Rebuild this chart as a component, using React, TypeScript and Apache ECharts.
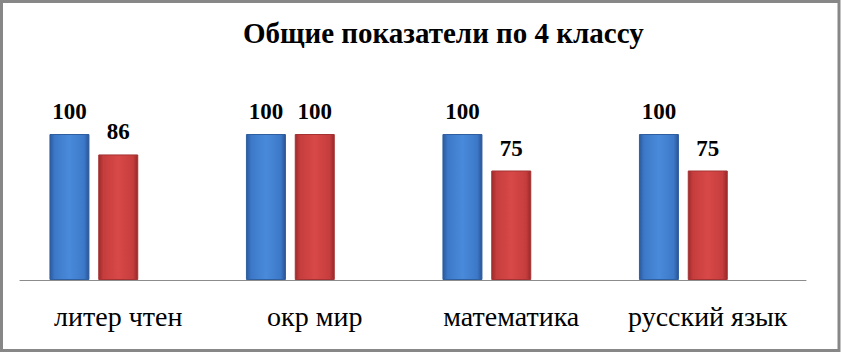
import React, { useEffect, useRef } from "react";
import * as echarts from "echarts";

const categories = ["литер чтен", "окр мир", "математика", "русский язык"];
const seriesA = [100, 100, 100, 100];
const seriesB = [86, 100, 75, 75];
const placeholder = [null, null, null, null];
const titleText = "Общие показатели по 4 классу";

const FONT = "Liberation Serif";

function hGrad(edge: string, mid: string, center: string, edge2: string) {
  return new echarts.graphic.LinearGradient(0, 0, 1, 0, [
    { offset: 0, color: edge },
    { offset: 0.12, color: mid },
    { offset: 0.5, color: center },
    { offset: 0.88, color: mid },
    { offset: 1, color: edge2 },
  ]);
}

export default function App() {
  const ref = useRef<HTMLDivElement>(null);
  useEffect(() => {
    if (!ref.current) return;
    const chart = echarts.init(ref.current, undefined, { renderer: "svg" });
    const label = {
      show: true,
      position: "top" as const,
      distance: 11,
      fontFamily: FONT,
      fontWeight: "bold" as const,
      fontSize: 23,
      color: "#000",
    };
    chart.setOption({
      animation: false,
      backgroundColor: "#fff",
      textStyle: { fontFamily: FONT },
      title: {
        text: titleText,
        left: 238,
        top: 13,
        textStyle: { fontFamily: FONT, fontWeight: "bold", fontSize: 29, color: "#000" },
      },
      grid: { left: 20, right: 35, top: 134, bottom: 72, containLabel: false },
      xAxis: {
        type: "category",
        data: categories,
        axisLine: { show: true, lineStyle: { color: "#8c8c8c", width: 1 } },
        axisTick: { show: false },
        axisLabel: { fontFamily: FONT, fontSize: 28, color: "#000", margin: 22, interval: 0 },
      },
      yAxis: { type: "value", min: 0, max: 100, show: false, splitLine: { show: false } },
      series: [
        {
          type: "bar",
          name: "A",
          data: seriesA,
          barWidth: 40,
          barGap: "22%",
          itemStyle: {
            color: hGrad("#2b5a9c", "#3c78c8", "#4a8ada", "#2a5494"),
            borderColor: "#2f5f9f",
            borderWidth: 1,
          },
          label,
        },
        {
          type: "bar",
          name: "B",
          data: seriesB,
          barWidth: 40,
          barGap: "22%",
          itemStyle: {
            color: hGrad("#9e2b2b", "#c63d3d", "#d84848", "#982828"),
            borderColor: "#a53232",
            borderWidth: 1,
          },
          label,
        },
        {
          type: "bar",
          name: "C",
          data: placeholder,
          barWidth: 40,
          barGap: "22%",
        },
      ],
      graphic: [
        {
          type: "rect",
          shape: { x: 1.5, y: 1.5, width: 837.5, height: 349 },
          style: { fill: "none", stroke: "#878787", lineWidth: 3 },
          silent: true,
        },
      ],
    });
    return () => chart.dispose();
  }, []);
  return (
    <div
      ref={ref}
      style={{ position: "fixed", left: 0, top: 0, width: 841, height: 352 }}
    />
  );
}
